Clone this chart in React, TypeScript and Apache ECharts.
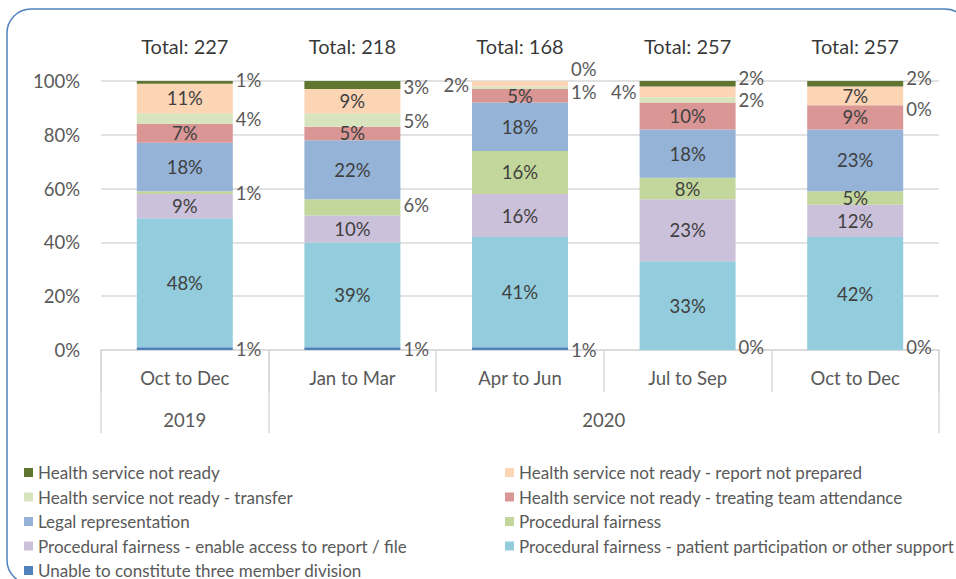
import React, { useEffect, useRef } from 'react';
import * as echarts from 'echarts';

// ---- data ----
const categories = ['Oct to Dec', 'Jan to Mar', 'Apr to Jun', 'Jul to Sep', 'Oct to Dec'];
const years = ['2019', '2020'];
const yearSpans = [1, 4];
const totals = [227, 218, 168, 257, 257];
const yTickStep = 20;

const unableToConstitute = [1, 1, 1, 0, 0];
const patientParticipation = [48, 39, 41, 33, 42];
const enableAccess = [9, 10, 16, 23, 12];
const proceduralFairness = [1, 6, 16, 8, 5];
const legalRepresentation = [18, 22, 18, 18, 23];
const treatingTeam = [7, 5, 5, 10, 9];
const transfer = [4, 5, 1, 2, 0];
const reportNotPrepared = [11, 9, 2, 4, 7];
const notReady = [1, 3, 0, 2, 2];

const seriesNames = [
  'Unable to constitute three member division',
  'Procedural fairness - patient participation or other support',
  'Procedural fairness - enable access to report / file',
  'Procedural fairness',
  'Legal representation',
  'Health service not ready - treating team attendance',
  'Health service not ready - transfer',
  'Health service not ready - report not prepared',
  'Health service not ready',
];
const seriesData = [
  unableToConstitute,
  patientParticipation,
  enableAccess,
  proceduralFairness,
  legalRepresentation,
  treatingTeam,
  transfer,
  reportNotPrepared,
  notReady,
];

// ---- styles ----
const colors = ['#4f81bd', '#93cddd', '#ccc1da', '#c3d69b', '#95b3d7', '#d99694', '#d7e4bd', '#fcd5b5', '#5f7530'];
const FONT = 'Lato, "Open Sans", sans-serif';

// label placements for small segments (key: seriesIndex-categoryIndex)
const labelPlacement: Record<string, { pos: 'left' | 'right'; dy: number }> = {
  '0-0': { pos: 'right', dy: 0 },
  '0-1': { pos: 'right', dy: 0 },
  '0-2': { pos: 'right', dy: 1 },
  '0-3': { pos: 'right', dy: -3 },
  '0-4': { pos: 'right', dy: -3 },
  '3-0': { pos: 'right', dy: 0 },
  '3-1': { pos: 'right', dy: -2 },
  '6-0': { pos: 'right', dy: 0 },
  '6-1': { pos: 'right', dy: 1 },
  '6-2': { pos: 'right', dy: 4 },
  '6-3': { pos: 'right', dy: 0 },
  '6-4': { pos: 'right', dy: 4 },
  '7-2': { pos: 'left', dy: 1 },
  '7-3': { pos: 'left', dy: 0 },
  '8-0': { pos: 'right', dy: -2 },
  '8-1': { pos: 'right', dy: 2 },
  '8-2': { pos: 'right', dy: -12 },
  '8-3': { pos: 'right', dy: -6 },
  '8-4': { pos: 'right', dy: -6 },
};

export default function App() {
  const ref = useRef<HTMLDivElement>(null);

  useEffect(() => {
    if (!ref.current) return;
    const chart = echarts.init(ref.current, undefined, { renderer: 'svg' });

    const barSeries = seriesNames.map((name, si) => ({
      type: 'bar',
      name,
      stack: 'total',
      barWidth: 96,
      itemStyle: { color: colors[si] },
      label: {
        show: true,
        position: 'inside',
        formatter: '{c}%',
        fontSize: 18.5,
        fontFamily: FONT,
        color: '#404040',
      },
      data: seriesData[si].map((v, ci) => {
        const p = labelPlacement[`${si}-${ci}`];
        const item: any = { value: v };
        if (p) {
          item.label = { position: p.pos, offset: [0, p.dy], distance: 3, color: '#595959' };
        }
        return item;
      }),
    }));

    const yearTicks: number[] = [0];
    const yearCenters: number[] = [];
    let acc = 0;
    yearSpans.forEach((s) => {
      yearCenters.push(acc + s / 2);
      acc += s;
      yearTicks.push(acc);
    });

    const leftLegend = [8, 6, 4, 2, 0].map((i) => seriesNames[i]);
    const rightLegend = [7, 5, 3, 1].map((i) => seriesNames[i]);
    const legendCommon = {
      orient: 'vertical',
      top: 464,
      height: 140,
      padding: 0,
      itemWidth: 9,
      itemHeight: 9,
      itemGap: 7.5,
      itemTextGap: 5,
      icon: 'rect',
      selectedMode: false,
      textStyle: { fontSize: 17, fontFamily: FONT, color: '#595959', lineHeight: 16 },
    };

    chart.setOption({
      animation: false,
      graphic: [
        {
          type: 'rect',
          silent: true,
          z: -10,
          shape: { x: 7, y: 9, width: 962, height: 575, r: 24 },
          style: { fill: 'none', stroke: '#4f81bd', lineWidth: 1.5 },
        },
      ],
      grid: { left: 101, right: 17, top: 81, bottom: 229, containLabel: false },
      legend: [
        { ...legendCommon, left: 24, data: leftLegend },
        { ...legendCommon, left: 505, data: rightLegend },
      ],
      xAxis: [
        {
          type: 'category',
          data: categories,
          position: 'bottom',
          offset: 0,
          axisLine: { show: true, lineStyle: { color: '#d9d9d9', width: 1.5 } },
          axisTick: { show: true, length: 42, interval: 0, lineStyle: { color: '#d9d9d9', width: 1.5 } },
          axisLabel: { margin: 18, fontSize: 18.5, fontFamily: FONT, color: '#595959', interval: 0 },
        },
        {
          type: 'value',
          min: 0,
          max: categories.length,
          position: 'bottom',
          offset: 0,
          axisLine: { show: false },
          splitLine: { show: false },
          axisTick: { show: true, customValues: yearTicks, length: 83, lineStyle: { color: '#d9d9d9', width: 1.5 } },
          axisLabel: {
            customValues: yearCenters,
            margin: 60,
            fontSize: 18.5,
            fontFamily: FONT,
            color: '#595959',
            formatter: (v: number) => {
              const idx = yearCenters.findIndex((c) => Math.abs(c - v) < 1e-6);
              return idx >= 0 ? years[idx] : '';
            },
          },
        },
      ],
      yAxis: {
        type: 'value',
        min: 0,
        max: 100,
        interval: yTickStep,
        axisLine: { show: false },
        axisTick: { show: false },
        splitLine: { lineStyle: { color: '#d9d9d9', width: 1.5 } },
        axisLabel: { formatter: '{value}%', margin: 21, fontSize: 18.5, fontFamily: FONT, color: '#595959' },
      },
      series: [
        ...barSeries,
        {
          type: 'scatter',
          name: 'totals',
          xAxisIndex: 0,
          data: totals.map(() => 100),
          symbolSize: 1,
          itemStyle: { color: 'rgba(0,0,0,0)' },
          silent: true,
          z: 10,
          label: {
            show: true,
            position: 'top',
            distance: 25,
            fontSize: 20,
            fontFamily: FONT,
            color: '#000000',
            formatter: (p: any) => `Total: ${totals[p.dataIndex]}`,
          },
        },
      ],
    } as any);

    return () => chart.dispose();
  }, []);

  return <div ref={ref} style={{ position: 'absolute', left: 0, top: 0, width: 956, height: 579 }} />;
}
